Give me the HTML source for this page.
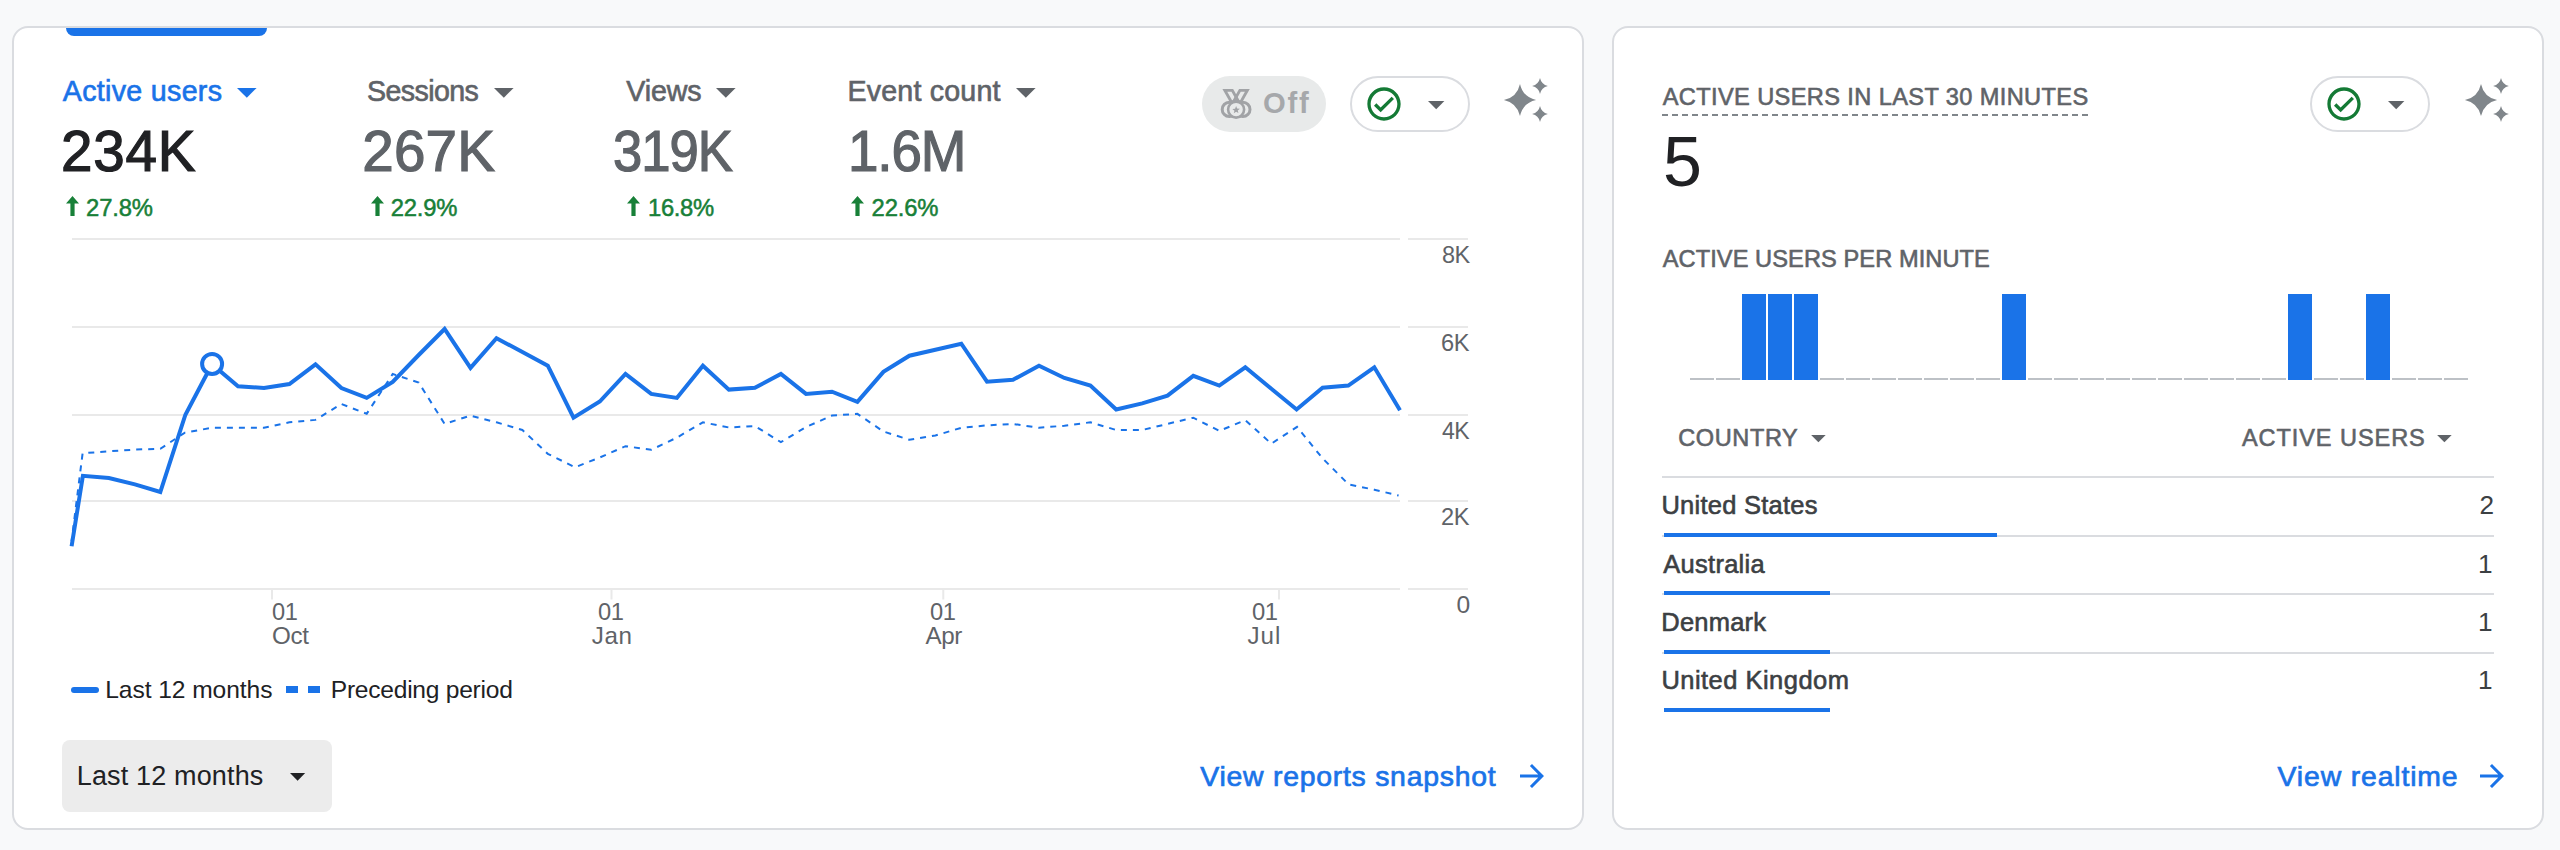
<!DOCTYPE html>
<html lang="en"><head><meta charset="utf-8"><title>Analytics Home</title>
<style>
html,body{margin:0;padding:0}
body{width:2560px;height:850px;overflow:hidden;background:#f8f9fa;position:relative;font-family:"Liberation Sans",Arial,sans-serif}
.card{position:absolute;box-sizing:border-box;background:#fff;border:2px solid #dadce0;border-radius:16px;overflow:hidden}
.card div,.card span,.card i,.card svg,.card header,.card footer{position:absolute}
.g{left:0;top:0;width:0;height:0}
.t{z-index:1;white-space:nowrap;line-height:1;display:block}
.i{display:block;overflow:visible}
.chart{display:block}
.tabind{left:52px;top:0;width:201px;height:8px;background:#1a73e8;border-radius:0 0 8px 8px}
.pill{box-sizing:border-box;height:56px;width:120px;border-radius:28px;top:48px}
.pill.off{background:#e8eaea;width:124px}
.pill.ol{border:2px solid #dadce0;background:#fff}
.btn{left:48px;top:712px;width:270px;height:72px;background:#ececec;border-radius:8px}
.lg1{left:57.4px;top:659.3px;width:27.2px;height:5.5px;border-radius:3px;background:#1a73e8}
.lg2{top:658.4px;width:12px;height:7px;background:#1a73e8}
.ul{left:48px;top:85.6px;width:426px;height:2.6px;background:repeating-linear-gradient(90deg,#80868b 0 6px,transparent 6px 10px)}
.bar{top:266px;width:24px;height:86px;background:#1a73e8}
.dash{top:350px;width:24px;height:2px;background:#bdc1c6}
.hline{left:48px;top:448px;width:832px;height:2px;background:#dadce0}
.sep{left:48px;width:832px;height:2px;background:#dadce0}
.rb{left:50px;height:4px;background:#1a73e8}
</style></head>
<body>
<section class="card overview" style="left:12px;top:26px;width:1572px;height:804px">
<div class="tabind"></div>
<div class="g metrics">
<div class="g metric sel"><span class="t" style="left:48.83px;top:48.76px;font-size:28.64px;color:#1a73e8;letter-spacing:0.297px;-webkit-text-stroke:0.65px #1a73e8;">Active users</span><svg class="i" style="left:222.80px;top:60.00px" width="19.6" height="9.8" viewBox="0 0 10 5"><path d="M0 0h10L5 5z" fill="#1a73e8"/></svg><span class="t" style="left:47.05px;top:96.09px;font-size:56.6px;color:#202124;letter-spacing:0.792px;-webkit-text-stroke:1.2px #202124;">234K</span><svg class="i" style="left:52.00px;top:168px" width="13" height="20" viewBox="0 0 13 20"><path d="M6.5 0L13 7.6H8.6V20H4.4V7.6H0z" fill="#188038"/></svg><span class="t" style="left:72.05px;top:167.84px;font-size:23.82px;color:#188038;letter-spacing:-0.140px;-webkit-text-stroke:0.5px #188038;">27.8%</span></div>
<div class="g metric"><span class="t" style="left:353.03px;top:48.76px;font-size:28.64px;color:#5f6368;letter-spacing:-0.573px;-webkit-text-stroke:0.65px #5f6368;transform:scaleX(0.9976);transform-origin:0 0;">Sessions</span><svg class="i" style="left:479.60px;top:60.00px" width="19.6" height="9.8" viewBox="0 0 10 5"><path d="M0 0h10L5 5z" fill="#5f6368"/></svg><span class="t" style="left:348.35px;top:96.09px;font-size:56.6px;color:#5f6368;letter-spacing:0.158px;-webkit-text-stroke:1.2px #5f6368;">267K</span><svg class="i" style="left:356.50px;top:168px" width="13" height="20" viewBox="0 0 13 20"><path d="M6.5 0L13 7.6H8.6V20H4.4V7.6H0z" fill="#188038"/></svg><span class="t" style="left:376.75px;top:167.84px;font-size:23.82px;color:#188038;letter-spacing:-0.190px;-webkit-text-stroke:0.5px #188038;">22.9%</span></div>
<div class="g metric"><span class="t" style="left:612.33px;top:48.76px;font-size:28.64px;color:#5f6368;letter-spacing:-0.159px;-webkit-text-stroke:0.65px #5f6368;">Views</span><svg class="i" style="left:702.00px;top:60.00px" width="19.6" height="9.8" viewBox="0 0 10 5"><path d="M0 0h10L5 5z" fill="#5f6368"/></svg><span class="t" style="left:598.55px;top:96.09px;font-size:56.6px;color:#5f6368;letter-spacing:-1.132px;-webkit-text-stroke:1.2px #5f6368;transform:scaleX(0.9303);transform-origin:0 0;">319K</span><svg class="i" style="left:613.00px;top:168px" width="13" height="20" viewBox="0 0 13 20"><path d="M6.5 0L13 7.6H8.6V20H4.4V7.6H0z" fill="#188038"/></svg><span class="t" style="left:634.05px;top:167.84px;font-size:23.82px;color:#188038;letter-spacing:-0.365px;-webkit-text-stroke:0.5px #188038;">16.8%</span></div>
<div class="g metric"><span class="t" style="left:833.49px;top:48.76px;font-size:28.64px;color:#5f6368;letter-spacing:0.183px;-webkit-text-stroke:0.65px #5f6368;">Event count</span><svg class="i" style="left:1002.40px;top:60.00px" width="19.6" height="9.8" viewBox="0 0 10 5"><path d="M0 0h10L5 5z" fill="#5f6368"/></svg><span class="t" style="left:834.18px;top:96.09px;font-size:56.6px;color:#5f6368;letter-spacing:-1.132px;-webkit-text-stroke:1.2px #5f6368;transform:scaleX(0.9680);transform-origin:0 0;">1.6M</span><svg class="i" style="left:836.50px;top:168px" width="13" height="20" viewBox="0 0 13 20"><path d="M6.5 0L13 7.6H8.6V20H4.4V7.6H0z" fill="#188038"/></svg><span class="t" style="left:857.55px;top:167.84px;font-size:23.82px;color:#188038;letter-spacing:-0.140px;-webkit-text-stroke:0.5px #188038;">22.6%</span></div>
</div>
<div class="g actions">
<div class="g benchmark"><div class="pill off" style="left:1188px"></div><svg class="i" style="left:1205px;top:59px" width="34" height="34" viewBox="0 0 34 34"><g fill="none" stroke="#a1a3a6" stroke-width="2.9" stroke-linejoin="miter"><path d="M5.90 3.40L13.30 3.40L19.60 14.60L12.20 14.60z"/><path d="M28.30 3.40L20.90 3.40L14.60 14.60L22.00 14.60z"/></g><path fill="#a1a3a6" d="M17.10 8.20L21.00 15.00L13.20 15.00z"/><g fill="none" stroke="#a1a3a6"><circle cx="10.299999999999955" cy="22.400000000000006" r="7.1" stroke-width="3"/><circle cx="23.90000000000009" cy="22.400000000000006" r="7.1" stroke-width="3"/><circle cx="17.09999999999991" cy="22.599999999999994" r="8" stroke-width="2.6" fill="#e8eaea"/></g><path fill="#a1a3a6" transform="translate(17.09999999999991 22.799999999999997) scale(0.92)" d="M0-4.2l1.1 2.8 3 .2-2.3 1.9.75 2.9L0 2.2-2.55 3.8l.75-2.9-2.3-1.9 3-.2z"/></svg><span class="t" style="left:1248.89px;top:61.08px;font-size:29.2px;color:#a6a8ab;letter-spacing:1.819px;font-weight:700;">Off</span></div>
<div class="g quality"><div class="pill ol" style="left:1336px"></div><svg class="i" style="left:1350.00px;top:56.00px" width="40" height="40" viewBox="0 0 24 24"><path fill="#147a35" d="M12 2C6.48 2 2 6.48 2 12s4.48 10 10 10 10-4.48 10-10S17.52 2 12 2zm0 18c-4.41 0-8-3.59-8-8s3.59-8 8-8 8 3.59 8 8-3.59 8-8 8zm4.59-12.42L10 14.17l-2.59-2.58L6 13l4 4 8-8z"/></svg><svg class="i" style="left:1413.80px;top:72.80px" width="16.4" height="8.4" viewBox="0 0 10 5"><path d="M0 0h10L5 5z" fill="#5f6368"/></svg></div>
<div class="g insights"><svg class="i" style="left:1486.00px;top:46.00px" width="52" height="52" viewBox="0 0 52 52"><path fill="#80868b" d="M20 9.9Q22.9 23.1 36.1 26Q22.9 28.9 20 42.1Q17.1 28.9 3.9 26Q17.1 23.1 20 9.9zM40 4.1Q41.42 10.58 47.9 12Q41.42 13.42 40 19.9Q38.58 13.42 32.1 12Q38.58 10.58 40 4.1zM40 32.1Q41.42 38.58 47.9 40Q41.42 41.42 40 47.9Q38.58 41.42 32.1 40Q38.58 38.58 40 32.1z"/></svg></div>
</div>
<div class="g chartwrap">
<svg class="chart" style="left:46px;top:202px" width="1420" height="390" viewBox="0 0 1420 390">
<g fill="none" stroke="#e9e9e9" stroke-width="2"><path d="M12 9H1340M1348 9H1408"/><path d="M12 97H1340M1348 97H1408"/><path d="M12 185H1340M1348 185H1408"/><path d="M12 271H1340M1348 271H1408"/><path d="M12 359H1340M1348 359H1408"/><path d="M212 359v10.5"/><path d="M551.5 359v10.5"/><path d="M883.3 359v10.5"/><path d="M1219 359v10.5"/></g>
<polyline fill="none" stroke="#1a73e8" stroke-width="2" stroke-dasharray="6 6" stroke-dashoffset="1.9" points="11.6,311.0 22.6,223.3 49.0,221.3 75.0,219.6 100.3,218.8 124.9,202.6 152.0,197.8 178.0,197.8 204.0,197.8 229.4,192.3 255.4,189.9 281.4,174.0 306.7,183.8 332.7,144.0 358.7,152.6 384.6,193.9 410.5,185.6 436.5,192.3 462.4,200.0 487.8,223.8 515.0,237.3 539.8,227.5 565.5,216.2 591.2,219.8 616.9,207.6 642.9,192.3 668.9,197.5 694.9,196.0 720.9,212.2 746.0,197.0 772.0,185.6 797.4,183.8 823.4,201.5 849.4,209.8 875.4,205.5 901.3,197.8 927.0,195.4 953.0,193.9 979.0,197.8 1004.4,195.7 1030.4,192.3 1056.2,200.0 1082.2,200.0 1107.5,193.9 1133.3,187.7 1159.3,200.9 1185.3,190.2 1211.3,213.7 1237.0,196.9 1262.6,228.4 1288.6,254.4 1314.3,259.7 1338.6,265.5"/>
<polyline fill="none" stroke="#1a73e8" stroke-width="4" stroke-linejoin="miter" points="11.6,316.2 22.9,245.8 48.9,248.0 74.9,254.4 100.3,262.0 125.4,184.7 152.0,134.2 178.0,156.2 204.0,158.0 229.4,154.0 255.5,134.3 281.4,158.0 306.7,167.9 332.7,152.0 358.7,125.0 384.6,99.0 410.5,137.9 436.5,108.2 462.4,122.0 487.8,135.7 513.5,187.7 539.8,171.5 565.5,144.0 591.2,163.9 616.9,167.9 642.9,135.7 668.9,159.6 694.9,157.8 720.9,144.0 746.0,163.9 772.0,161.7 797.4,171.8 823.4,141.9 849.4,125.7 875.4,119.8 901.3,113.7 927.0,151.7 953.0,149.8 979.0,135.7 1004.4,148.0 1030.4,155.6 1056.2,179.5 1082.2,173.4 1107.5,165.7 1133.3,145.8 1159.3,155.6 1185.3,137.3 1211.3,158.7 1236.6,179.5 1262.6,157.8 1288.3,155.6 1314.3,137.3 1340.0,180.2"/>
<circle cx="152.1" cy="133.9" r="10" fill="#fff" stroke="#1a73e8" stroke-width="4"/>
</svg>
<div class="g yaxis"><span class="t" style="left:1427.55px;top:215.18px;font-size:24.6px;color:#5f6368;letter-spacing:-0.492px;transform:scaleX(0.9546);transform-origin:0 0;">8K</span><span class="t" style="left:1427.35px;top:303.18px;font-size:24.6px;color:#5f6368;letter-spacing:-0.492px;transform:scaleX(0.9614);transform-origin:0 0;">6K</span><span class="t" style="left:1428.03px;top:391.18px;font-size:24.6px;color:#5f6368;letter-spacing:-0.492px;transform:scaleX(0.9381);transform-origin:0 0;">4K</span><span class="t" style="left:1427.35px;top:477.18px;font-size:24.6px;color:#5f6368;letter-spacing:-0.492px;transform:scaleX(0.9614);transform-origin:0 0;">2K</span><span class="t" style="left:1442.45px;top:565.18px;font-size:24.6px;color:#5f6368;">0</span></div>
<div class="g xaxis"><span class="t" style="left:258.12px;top:572.31px;font-size:24.2px;color:#5f6368;letter-spacing:-0.484px;transform:scaleX(0.9764);transform-origin:0 0;">01</span><span class="t" style="left:257.90px;top:596.11px;font-size:24.2px;color:#5f6368;letter-spacing:-0.312px;">Oct</span><span class="t" style="left:583.92px;top:572.31px;font-size:24.2px;color:#5f6368;letter-spacing:-0.484px;transform:scaleX(0.9805);transform-origin:0 0;">01</span><span class="t" style="left:577.70px;top:596.11px;font-size:24.2px;color:#5f6368;letter-spacing:0.671px;">Jan</span><span class="t" style="left:915.82px;top:572.31px;font-size:24.2px;color:#5f6368;letter-spacing:-0.484px;transform:scaleX(0.9805);transform-origin:0 0;">01</span><span class="t" style="left:911.60px;top:596.11px;font-size:24.2px;color:#5f6368;letter-spacing:-0.450px;">Apr</span><span class="t" style="left:1238.11px;top:572.31px;font-size:24.2px;color:#5f6368;letter-spacing:-0.484px;transform:scaleX(0.9846);transform-origin:0 0;">01</span><span class="t" style="left:1233.50px;top:596.11px;font-size:24.2px;color:#5f6368;letter-spacing:0.971px;">Jul</span></div>
</div>
<div class="g legend">
<div class="g"><div class="lg1"></div><span class="t" style="left:91.20px;top:650.28px;font-size:24.6px;color:#202124;letter-spacing:-0.069px;">Last 12 months</span></div>
<div class="g"><div class="lg2" style="left:272px"></div><div class="lg2" style="left:294.3px"></div><span class="t" style="left:316.80px;top:650.28px;font-size:24.6px;color:#202124;letter-spacing:-0.261px;">Preceding period</span></div>
</div>
<footer class="g">
<div class="g range"><div class="btn"></div><span class="t" style="left:62.79px;top:735.14px;font-size:27.0px;color:#202124;letter-spacing:0.149px;">Last 12 months</span><svg class="i" style="left:276.40px;top:744.80px" width="15.2" height="7.7" viewBox="0 0 10 5"><path d="M0 0h10L5 5z" fill="#202124"/></svg></div>
<div class="g link"><span class="t" style="left:1186.35px;top:733.97px;font-size:28.39px;color:#1a73e8;letter-spacing:0.751px;-webkit-text-stroke:0.7px #1a73e8;">View reports snapshot</span><svg class="i" style="left:1500.00px;top:730.00px" width="36" height="36" viewBox="0 0 24 24"><path d="M12 4l-1.41 1.41L16.17 11H4v2h12.17l-5.58 5.59L12 20l8-8z" fill="#1a73e8"/></svg></div>
</footer>
</section>
<section class="card realtime" style="left:1612px;top:26px;width:932px;height:804px">
<header class="g">
<div class="g title"><span class="t" style="left:48.70px;top:58.12px;font-size:23.6px;color:#5f6368;letter-spacing:0.388px;-webkit-text-stroke:0.6px #5f6368;">ACTIVE USERS IN LAST 30 MINUTES</span><div class="ul"></div></div>
<div class="g quality"><div class="pill ol" style="left:696px"></div><svg class="i" style="left:710.00px;top:56.00px" width="40" height="40" viewBox="0 0 24 24"><path fill="#147a35" d="M12 2C6.48 2 2 6.48 2 12s4.48 10 10 10 10-4.48 10-10S17.52 2 12 2zm0 18c-4.41 0-8-3.59-8-8s3.59-8 8-8 8 3.59 8 8-3.59 8-8 8zm4.59-12.42L10 14.17l-2.59-2.58L6 13l4 4 8-8z"/></svg><svg class="i" style="left:773.80px;top:72.80px" width="16.4" height="8.4" viewBox="0 0 10 5"><path d="M0 0h10L5 5z" fill="#5f6368"/></svg></div>
<div class="g insights"><svg class="i" style="left:846.50px;top:46.00px" width="52" height="52" viewBox="0 0 52 52"><path fill="#80868b" d="M20 9.9Q22.9 23.1 36.1 26Q22.9 28.9 20 42.1Q17.1 28.9 3.9 26Q17.1 23.1 20 9.9zM40 4.1Q41.42 10.58 47.9 12Q41.42 13.42 40 19.9Q38.58 13.42 32.1 12Q38.58 10.58 40 4.1zM40 32.1Q41.42 38.58 47.9 40Q41.42 41.42 40 47.9Q38.58 41.42 32.1 40Q38.58 38.58 40 32.1z"/></svg></div>
<span class="t" style="left:49.11px;top:99.05px;font-size:70.0px;color:#202124;">5</span>
</header>
<div class="g perminute">
<span class="t" style="left:48.70px;top:220.22px;font-size:23.6px;color:#5f6368;letter-spacing:0.093px;-webkit-text-stroke:0.6px #5f6368;">ACTIVE USERS PER MINUTE</span>
<div class="g bars"><i class="dash" style="left:76px"></i><i class="dash" style="left:102px"></i><i class="bar" style="left:128px"></i><i class="bar" style="left:154px"></i><i class="bar" style="left:180px"></i><i class="dash" style="left:206px"></i><i class="dash" style="left:232px"></i><i class="dash" style="left:258px"></i><i class="dash" style="left:284px"></i><i class="dash" style="left:310px"></i><i class="dash" style="left:336px"></i><i class="dash" style="left:362px"></i><i class="bar" style="left:388px"></i><i class="dash" style="left:414px"></i><i class="dash" style="left:440px"></i><i class="dash" style="left:466px"></i><i class="dash" style="left:492px"></i><i class="dash" style="left:518px"></i><i class="dash" style="left:544px"></i><i class="dash" style="left:570px"></i><i class="dash" style="left:596px"></i><i class="dash" style="left:622px"></i><i class="dash" style="left:648px"></i><i class="bar" style="left:674px"></i><i class="dash" style="left:700px"></i><i class="dash" style="left:726px"></i><i class="bar" style="left:752px"></i><i class="dash" style="left:778px"></i><i class="dash" style="left:804px"></i><i class="dash" style="left:830px"></i></div>
</div>
<div class="g table">
<div class="g thead"><span class="t" style="left:64.20px;top:399.11px;font-size:23.5px;color:#5f6368;letter-spacing:0.634px;-webkit-text-stroke:0.6px #5f6368;">COUNTRY</span><svg class="i" style="left:196.90px;top:407.00px" width="14.8" height="7.3" viewBox="0 0 10 5"><path d="M0 0h10L5 5z" fill="#5f6368"/></svg><span class="t" style="left:627.90px;top:399.11px;font-size:23.5px;color:#5f6368;letter-spacing:0.955px;-webkit-text-stroke:0.6px #5f6368;">ACTIVE USERS</span><svg class="i" style="left:822.60px;top:407.00px" width="14.8" height="7.3" viewBox="0 0 10 5"><path d="M0 0h10L5 5z" fill="#5f6368"/></svg><i class="hline"></i></div>
<div class="g row"><span class="t" style="left:47.40px;top:464.81px;font-size:25.5px;color:#3c4043;letter-spacing:0.255px;-webkit-text-stroke:0.6px #3c4043;">United States</span><span class="t" style="left:865.43px;top:464.22px;font-size:26.2px;color:#3c4043;">2</span><i class="sep" style="top:507.00px"></i><i class="rb" style="top:505.00px;width:333px"></i></div>
<div class="g row"><span class="t" style="left:49.30px;top:524.41px;font-size:25.5px;color:#3c4043;letter-spacing:0.271px;-webkit-text-stroke:0.6px #3c4043;">Australia</span><span class="t" style="left:863.93px;top:522.82px;font-size:26.2px;color:#3c4043;">1</span><i class="sep" style="top:565.25px"></i><i class="rb" style="top:563.25px;width:166px"></i></div>
<div class="g row"><span class="t" style="left:47.30px;top:582.41px;font-size:25.5px;color:#3c4043;letter-spacing:0.218px;-webkit-text-stroke:0.6px #3c4043;">Denmark</span><span class="t" style="left:863.93px;top:580.82px;font-size:26.2px;color:#3c4043;">1</span><i class="sep" style="top:623.50px"></i><i class="rb" style="top:621.50px;width:166px"></i></div>
<div class="g row"><span class="t" style="left:47.40px;top:640.41px;font-size:25.5px;color:#3c4043;letter-spacing:0.469px;-webkit-text-stroke:0.6px #3c4043;">United Kingdom</span><span class="t" style="left:863.93px;top:638.82px;font-size:26.2px;color:#3c4043;">1</span><i class="rb" style="top:679.75px;width:166px"></i></div>
</div>
<footer class="g"><div class="g link"><span class="t" style="left:663.60px;top:733.97px;font-size:28.39px;color:#1a73e8;letter-spacing:0.852px;-webkit-text-stroke:0.7px #1a73e8;">View realtime</span><svg class="i" style="left:860.00px;top:730.00px" width="36" height="36" viewBox="0 0 24 24"><path d="M12 4l-1.41 1.41L16.17 11H4v2h12.17l-5.58 5.59L12 20l8-8z" fill="#1a73e8"/></svg></div></footer>
</section>
</body></html>
